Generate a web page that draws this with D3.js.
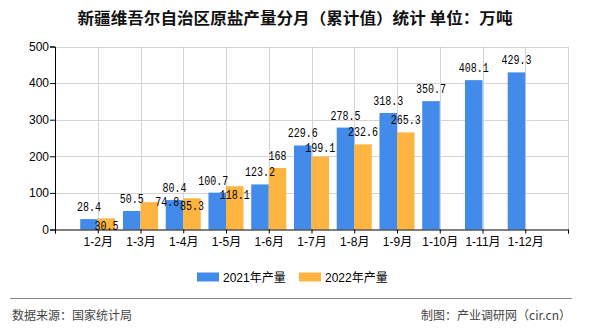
<!DOCTYPE html>
<html><head><meta charset="utf-8">
<script src="https://cdn.jsdelivr.net/npm/d3@7"></script>
<style>
body{margin:0;background:#fff;}
svg{display:block;}
</style></head>
<body>
<svg id="c" width="590" height="330"></svg>
<script>
const title = "新疆维吾尔自治区原盐产量分月（累计值）统计 单位：万吨";
const categories = ["1-2月","1-3月","1-4月","1-5月","1-6月","1-7月","1-8月","1-9月","1-10月","1-11月","1-12月"];
const series2021 = [28.4, 50.5, 80.4, 100.7, 123.2, 229.6, 278.5, 318.3, 350.7, 408.1, 429.3];
const series2022 = [30.5, 74.8, 85.3, 118.1, 168, 199.1, 232.6, 265.3];
const seriesNames = ["2021年产量", "2022年产量"];
const yTicks = [0, 100, 200, 300, 400, 500];
const sourceText = "数据来源：国家统计局";
const creditText = "制图：产业调研网（cir.cn）";

// label nudges (style only): [dx, dy] relative to default label position
const nudge2021 = [[0,0],[0,0],[0,0],[-4,0],[0,0],[0,0],[0,0],[0,0],[0,0],[0,0],[0,0]];
const nudge2022 = [[0,20],[18,12],[0,20],[0,21],[0,0],[0,3],[0,0],[0,0]];

const colors = ["#428BEB", "#FDB441"];
const svg = d3.select("#c");
const L = 55, R = 568, T = 46.5, B = 229.5;

const x = d3.scaleLinear().domain([0, categories.length + 1]).range([L, R]);
const y = d3.scaleLinear().domain([0, 500]).range([B, T]);
const step = x(1) - x(0);
const bw = step * 0.41;

// title
svg.append("text").attr("x", 295).attr("y", 24).attr("text-anchor", "middle")
  .attr("font-family", "'Noto Sans CJK SC', sans-serif").attr("font-size", 15.5)
  .attr("font-weight", "bold").attr("fill", "#111")
  .attr("textLength", 435).attr("lengthAdjust", "spacingAndGlyphs")
  .text(title);

// grid
const grid = svg.append("g").attr("stroke", "#d4d4d4").attr("stroke-width", 1);
yTicks.filter(v => v > 0).forEach(v => {
  grid.append("line").attr("x1", L).attr("x2", R).attr("y1", Math.round(y(v)) + 0.5).attr("y2", Math.round(y(v)) + 0.5);
});
d3.range(1, categories.length + 2).forEach(i => {
  grid.append("line").attr("x1", Math.round(x(i)) + 0.5).attr("x2", Math.round(x(i)) + 0.5).attr("y1", T).attr("y2", B);
});

// bars
const bars = svg.append("g");
[series2021, series2022].forEach((s, si) => {
  bars.selectAll(".b" + si).data(s).join("rect")
    .attr("x", (d, i) => x(i + 1) - bw + si * bw)
    .attr("width", bw)
    .attr("y", d => y(d))
    .attr("height", d => B - y(d))
    .attr("fill", colors[si]);
});

// axes
const yAxis = svg.append("g").attr("transform", `translate(${L},0)`)
  .call(d3.axisLeft(y).tickValues(yTicks).tickSize(5).tickFormat(d3.format("d")));
const xAxis = svg.append("g").attr("transform", `translate(0,${B})`)
  .call(d3.axisBottom(x).tickValues(d3.range(0, categories.length + 2)).tickSize(4)
    .tickFormat(i => categories[i - 1] || ""));
[yAxis, xAxis].forEach(a => {
  a.select(".domain").attr("stroke", "#000");
  a.selectAll(".tick line").attr("stroke", "#000");
  a.selectAll("text").attr("fill", "#000").attr("font-size", 12)
    .attr("font-family", "'Liberation Sans','Noto Sans CJK SC', sans-serif");
});
yAxis.selectAll("text").attr("x", -6);
xAxis.selectAll("text").attr("y", 8);

// value labels
const labels = svg.append("g").attr("font-family", "'Liberation Mono', monospace")
  .attr("font-size", 12).attr("fill", "#000").attr("text-anchor", "middle");
[[series2021, nudge2021], [series2022, nudge2022]].forEach(([s, n], si) => {
  labels.selectAll(".l" + si).data(s).join("text")
    .attr("x", (d, i) => x(i + 1) - bw / 2 + si * bw + n[i][0])
    .attr("y", (d, i) => y(d) - 8 + n[i][1])
    .attr("textLength", d => String(d).length * 6)
    .attr("lengthAdjust", "spacingAndGlyphs")
    .text(d => String(d));
});

// legend
const leg = svg.append("g").attr("font-family", "'Liberation Sans','Noto Sans CJK SC', sans-serif").attr("font-size", 12);
const legX = [197, 299];
seriesNames.forEach((nm, i) => {
  leg.append("rect").attr("x", legX[i]).attr("y", 272.5).attr("width", 22).attr("height", 9).attr("fill", colors[i]);
  leg.append("text").attr("x", legX[i] + 26).attr("y", 281.5).attr("fill", "#000").text(nm);
});

// footer
svg.append("line").attr("x1", 10).attr("x2", 572).attr("y1", 298.5).attr("y2", 298.5).attr("stroke", "#888").attr("stroke-width", 1);
const ft = svg.append("g").attr("font-family", "'Noto Sans CJK SC', sans-serif").attr("font-size", 12).attr("fill", "#444");
ft.append("text").attr("x", 12).attr("y", 319.5).text(sourceText);
ft.append("text").attr("x", 571).attr("y", 319.5).attr("text-anchor", "end").text(creditText);
</script>
</body></html>
